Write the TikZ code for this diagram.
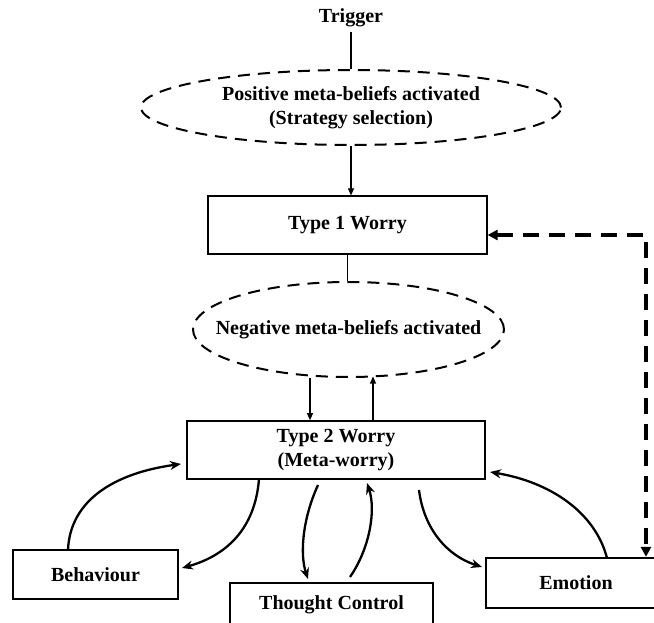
\documentclass[tikz,border=0pt]{standalone}
\usepackage{fontspec}
\setmainfont{Liberation Serif}
\usetikzlibrary{shapes.geometric,arrows.meta}
\begin{document}
\begin{tikzpicture}[x=1pt,y=-1pt,
  txt/.style={font=\fontsize{20}{24}\selectfont\bfseries, align=center, inner sep=0pt},
  dashell/.style={ellipse, draw, line width=2pt, dash pattern=on 12pt off 8pt, inner sep=0pt},
  thinbox/.style={txt, rectangle, draw, line width=1.2pt},
  midbox/.style={txt, rectangle, draw, line width=1.6pt},
  thickbox/.style={txt, rectangle, draw, line width=2.3pt},
  thinarrow/.style={line width=1.1pt, -{Triangle[length=7pt,width=6pt]}},
  thinline/.style={line width=1.1pt},
  curvearrow/.style={line width=2.3pt, -{Stealth[length=11pt,width=9pt]}},
  feedback/.style={line width=3.3pt, dash pattern=on 16pt off 10pt, {Triangle[length=10pt,width=10pt]}-{Triangle[length=10pt,width=10pt]}}
]
\useasboundingbox (0,0) rectangle (654,623);
\clip (0,0) rectangle (654,623);

\node[txt] (trig) at (351,18) {Trigger};
\node[dashell, minimum width=420pt, minimum height=75pt,
  label={[txt]center:Positive meta-beliefs activated\\(Strategy selection)}] (pos) at (351,107.5) {};
\node[thinbox, minimum width=279pt, minimum height=58pt] (t1) at (347.5,225) {Type 1 Worry};
\node[dashell, minimum width=311pt, minimum height=95pt,
  label={[txt]center:Negative meta-beliefs activated}] (neg) at (348.5,329.5) {};
\node[midbox, minimum width=298pt, minimum height=58pt] (t2) at (336,450)
  {Type 2 Worry\\(Meta-worry)};
\node[thickbox, minimum width=165pt, minimum height=49pt] (beh) at (95.5,574.5) {Behaviour};
\node[thickbox, minimum width=203pt, minimum height=44pt] (tc) at (331.5,605) {Thought Control};
\node[thickbox, minimum width=180pt, minimum height=50pt] (emo) at (576,583) {Emotion};

% straight connectors
\coordinate (tl) at (351,32);
\draw[thinline] (tl) -- (pos.north);
\draw[thinarrow] (pos.south) -- (pos.south |- t1.north);
\draw[thinline] (t1.south) -- (t1.south |- neg.north);
\coordinate (na) at (310,378);
\coordinate (nb) at (373,376.5);
\draw[thinarrow] (na) -- (na |- t2.north);
\draw[thinarrow] (nb |- t2.north) -- (nb);

% curved connectors
\coordinate (t2bl) at (259,479);
\coordinate (behr) at (182,568);
\coordinate (behtop) at (68,550);
\coordinate (t2l) at (181,464);
\coordinate (t2bc) at (318,485);
\coordinate (tctl) at (308,579);
\coordinate (tctr) at (350,577);
\coordinate (t2bc2) at (367,483);
\coordinate (t2br) at (419,490);
\coordinate (emol) at (482,567);
\coordinate (emotop) at (607,558);
\coordinate (t2r) at (490,472);

\draw[curvearrow] (t2bl) .. controls (255,530) and (225,556) .. (behr);
\draw[curvearrow] (behtop) .. controls (70,500) and (115,473) .. (t2l);
\draw[curvearrow] (t2bc) .. controls (302,520) and (300,555) .. (tctl);
\draw[curvearrow] (tctr) .. controls (370,548) and (376,510) .. (t2bc2);
\draw[curvearrow] (t2br) .. controls (424,530) and (448,556) .. (emol);
\draw[curvearrow] (emotop) .. controls (595,512) and (550,482) .. (t2r);

% dashed feedback
\coordinate (corner) at (646,235);
\draw[feedback] (corner -| t1.east) -- (corner) -- (corner |- emo.north);
\end{tikzpicture}
\end{document}
